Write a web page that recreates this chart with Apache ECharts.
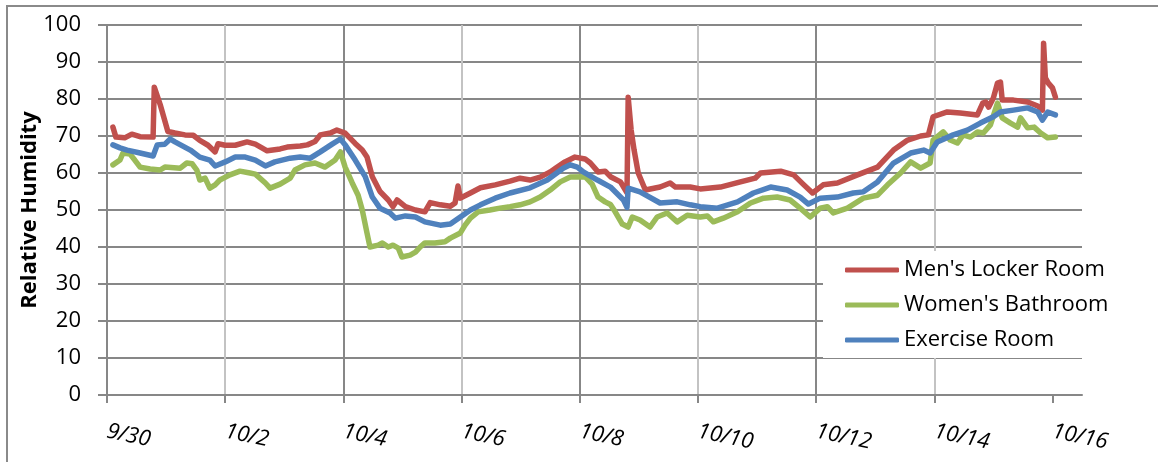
<!DOCTYPE html>
<html>
<head>
<meta charset="utf-8">
<script src="https://cdn.jsdelivr.net/npm/echarts@6/dist/echarts.min.js"></script>
<style>
  html, body { margin: 0; padding: 0; background: #fff; }
  #chart { width: 1158px; height: 462px; }
</style>
</head>
<body>
<div id="chart"></div>
<script>
// Relative humidity readings, x = days since 9/30 00:00
const tickLabels = ['9/30', '10/2', '10/4', '10/6', '10/8', '10/10', '10/12', '10/14', '10/16'];
const labelDays = [0, 2, 4, 6, 8, 10, 12, 14, 16];

const mensLocker = [
  [0.10, 72.4], [0.15, 69.7], [0.30, 69.5], [0.42, 70.5], [0.56, 69.8], [0.78, 69.7],
  [0.80, 83.2], [0.90, 78.5], [1.03, 71.2], [1.15, 70.8], [1.32, 70.3], [1.46, 70.2],
  [1.57, 68.8], [1.71, 67.5], [1.83, 65.7], [1.88, 67.9], [2.00, 67.5], [2.17, 67.5],
  [2.37, 68.4], [2.51, 67.8], [2.71, 66.0], [2.93, 66.5], [3.05, 67.0], [3.27, 67.3],
  [3.39, 67.6], [3.52, 68.5], [3.61, 70.3], [3.78, 70.8], [3.89, 71.6], [4.03, 70.8],
  [4.20, 68.0], [4.32, 66.2], [4.40, 64.3], [4.49, 59.0], [4.62, 55.0], [4.76, 52.7],
  [4.84, 50.9], [4.91, 52.7], [5.05, 50.9], [5.22, 50.0], [5.38, 49.5], [5.47, 52.0],
  [5.64, 51.4], [5.81, 51.0], [5.89, 51.9], [5.94, 56.5], [5.98, 53.2], [6.15, 54.6],
  [6.32, 56.0], [6.57, 56.8], [6.82, 57.8], [6.99, 58.6], [7.16, 58.1], [7.33, 58.9],
  [7.50, 60.3], [7.59, 61.3], [7.75, 63.0], [7.92, 64.3], [8.09, 63.8], [8.18, 62.7],
  [8.31, 60.3], [8.43, 60.5], [8.52, 59.0], [8.69, 57.6], [8.80, 54.6], [8.82, 80.5],
  [8.87, 71.6], [8.92, 66.2], [8.99, 60.0], [9.11, 55.4], [9.36, 56.2], [9.53, 57.3],
  [9.62, 56.2], [9.87, 56.2], [10.04, 55.7], [10.38, 56.2], [10.72, 57.6], [10.97, 58.6],
  [11.06, 60.0], [11.40, 60.5], [11.62, 59.5], [11.78, 57.0], [11.94, 54.6], [12.12, 56.8],
  [12.36, 57.3], [12.70, 59.5], [13.04, 61.6], [13.31, 66.2], [13.55, 68.9], [13.77, 70.0],
  [13.90, 70.3], [13.98, 75.2], [14.22, 76.5], [14.44, 76.2], [14.73, 75.7], [14.82, 78.9],
  [14.87, 79.2], [14.92, 77.8], [15.00, 80.3], [15.07, 84.3], [15.12, 84.6], [15.15, 79.7],
  [15.34, 79.7], [15.58, 79.2], [15.75, 78.1], [15.83, 77.0], [15.85, 95.1], [15.88, 85.7],
  [15.93, 84.3], [16.00, 83.0], [16.05, 80.5]
];

const womensBath = [
  [0.10, 62.2], [0.22, 63.5], [0.27, 65.4], [0.39, 65.1], [0.47, 63.5], [0.56, 61.6],
  [0.73, 61.1], [0.90, 60.8], [0.98, 61.6], [1.24, 61.3], [1.35, 62.7], [1.44, 62.5],
  [1.52, 60.8], [1.57, 58.1], [1.66, 58.6], [1.74, 55.9], [1.83, 56.8], [1.91, 58.1],
  [2.08, 59.5], [2.25, 60.5], [2.42, 60.0], [2.51, 59.7], [2.68, 57.3], [2.76, 55.9],
  [2.93, 57.0], [3.10, 58.6], [3.18, 60.8], [3.35, 62.2], [3.52, 62.7], [3.69, 61.6],
  [3.86, 63.5], [3.95, 65.7], [4.03, 61.6], [4.15, 57.3], [4.25, 54.0], [4.32, 50.0],
  [4.40, 43.8], [4.45, 40.0], [4.59, 40.5], [4.66, 41.1], [4.76, 40.0], [4.84, 40.5],
  [4.93, 39.7], [4.99, 37.3], [5.13, 37.8], [5.22, 38.6], [5.30, 40.0], [5.38, 41.1],
  [5.55, 41.1], [5.72, 41.4], [5.81, 42.4], [5.98, 43.8], [6.06, 45.9], [6.15, 47.8],
  [6.28, 49.5], [6.48, 50.0], [6.65, 50.5], [6.82, 50.9], [6.99, 51.4], [7.16, 52.2],
  [7.33, 53.5], [7.50, 55.4], [7.67, 57.6], [7.84, 58.9], [8.09, 59.0], [8.21, 57.0],
  [8.31, 53.5], [8.43, 52.2], [8.52, 51.5], [8.60, 49.5], [8.72, 46.2], [8.82, 45.4],
  [8.89, 48.1], [9.02, 47.3], [9.19, 45.4], [9.31, 48.1], [9.48, 49.2], [9.65, 46.8],
  [9.82, 48.6], [10.04, 48.1], [10.16, 48.4], [10.26, 46.8], [10.43, 47.8], [10.67, 49.5],
  [10.89, 51.9], [11.11, 53.2], [11.34, 53.5], [11.56, 52.7], [11.73, 50.5], [11.90, 48.1],
  [12.07, 50.5], [12.19, 50.9], [12.29, 49.2], [12.53, 50.5], [12.80, 53.2], [13.04, 54.0],
  [13.21, 56.8], [13.43, 60.0], [13.60, 63.0], [13.77, 61.3], [13.93, 62.7], [13.98, 68.9],
  [14.15, 71.1], [14.27, 68.9], [14.39, 68.1], [14.49, 70.3], [14.61, 69.7], [14.73, 71.1],
  [14.83, 70.8], [14.95, 73.0], [15.07, 78.9], [15.15, 74.9], [15.29, 73.5], [15.41, 72.4],
  [15.46, 74.9], [15.58, 72.2], [15.69, 72.4], [15.80, 70.8], [15.92, 69.5], [16.05, 69.7]
];

const exerciseRoom = [
  [0.10, 67.6], [0.22, 66.8], [0.34, 66.2], [0.56, 65.4], [0.78, 64.6], [0.85, 67.6],
  [0.98, 67.8], [1.07, 69.2], [1.15, 68.4], [1.41, 66.2], [1.57, 64.3], [1.74, 63.5],
  [1.83, 61.9], [2.00, 63.0], [2.17, 64.3], [2.34, 64.3], [2.51, 63.5], [2.68, 61.9],
  [2.84, 63.0], [3.10, 64.0], [3.27, 64.3], [3.44, 64.0], [3.61, 65.7], [3.81, 67.8],
  [3.95, 69.2], [4.03, 67.6], [4.20, 63.5], [4.37, 59.0], [4.49, 53.5], [4.62, 50.5],
  [4.79, 49.2], [4.88, 47.8], [5.05, 48.4], [5.22, 48.1], [5.38, 46.8], [5.64, 45.9],
  [5.81, 46.2], [5.98, 48.1], [6.15, 50.0], [6.32, 51.4], [6.57, 53.2], [6.82, 54.6],
  [7.16, 56.0], [7.45, 58.1], [7.72, 61.3], [7.84, 62.2], [7.96, 61.6], [8.06, 60.3],
  [8.30, 58.1], [8.52, 56.2], [8.74, 52.7], [8.80, 50.7], [8.82, 55.9], [9.02, 54.9],
  [9.36, 51.9], [9.65, 52.2], [9.87, 51.4], [10.04, 50.9], [10.33, 50.5], [10.67, 52.2],
  [10.94, 54.6], [11.23, 56.2], [11.51, 55.4], [11.73, 53.5], [11.87, 51.6], [12.07, 53.2],
  [12.36, 53.5], [12.63, 54.6], [12.80, 54.9], [13.04, 57.6], [13.31, 62.7], [13.60, 65.4],
  [13.82, 66.2], [13.93, 65.4], [14.05, 68.4], [14.32, 70.3], [14.56, 71.6], [14.78, 73.5],
  [15.00, 75.2], [15.12, 76.5], [15.34, 77.0], [15.58, 77.6], [15.75, 76.5], [15.83, 74.3],
  [15.92, 76.5], [16.05, 75.7]
];

const FONT = '"Open Sans", "Noto Sans", sans-serif';
const DARK = '#878787';
const LIGHT = '#c3c3c3';

function lineSeries(name, data, color) {
  return {
    name: name,
    type: 'line',
    data: data,
    showSymbol: false,
    symbol: 'none',
    lineStyle: { color: color, width: 5.5, join: 'round', cap: 'round' },
    itemStyle: { color: color },
    emphasis: { disabled: true }
  };
}

const chart = echarts.init(document.getElementById('chart'), null, { renderer: 'canvas' });
chart.setOption({
  animation: false,
  backgroundColor: '#fff',
  graphic: [{
    type: 'rect',
    shape: { x: 7, y: 6, width: 1300, height: 600 },
    style: { fill: 'none', stroke: '#8a8a8a', lineWidth: 2 },
    silent: true,
    z: -10
  }],
  grid: { left: 107, top: 25, right: 76, bottom: 67, containLabel: false },
  xAxis: {
    type: 'value',
    min: 0,
    max: 16.5,
    interval: 1,
    axisLine: { show: true, lineStyle: { color: DARK, width: 2 } },
    axisTick: { show: true, length: 8, customValues: labelDays, lineStyle: { color: DARK, width: 2 } },
    axisLabel: {
      customValues: labelDays,
      formatter: function (v) {
        const i = labelDays.indexOf(v);
        return i >= 0 ? tickLabels[i] : '';
      },
      rotate: -12,
      margin: 36,
      fontStyle: 'italic',
      fontFamily: FONT,
      fontSize: 22,
      color: '#000'
    },
    splitLine: {
      show: true,
      showMaxLine: false,
      lineStyle: { color: [DARK, LIGHT], width: 2 }
    }
  },
  yAxis: {
    type: 'value',
    min: 0,
    max: 100,
    interval: 10,
    name: 'Relative Humidity',
    nameLocation: 'middle',
    nameGap: 66,
    nameMoveOverlap: false,
    nameTextStyle: { fontFamily: FONT, fontSize: 22, fontWeight: 'bold', color: '#000' },
    axisLine: { show: true, lineStyle: { color: DARK, width: 2 } },
    axisTick: { show: true, length: 9, lineStyle: { color: DARK, width: 2 } },
    axisLabel: { margin: 26, fontFamily: FONT, fontSize: 22, color: '#000' },
    splitLine: { show: true, lineStyle: { color: DARK, width: 2 } }
  },
  legend: {
    orient: 'vertical',
    left: 823,
    top: 251,
    padding: [7, 40, 6, 22],
    backgroundColor: '#fff',
    icon: 'roundRect',
    itemWidth: 54,
    itemHeight: 5,
    itemGap: 11,
    selectedMode: false,
    textStyle: { fontFamily: FONT, fontSize: 22, color: '#000', lineHeight: 24 },
    data: ["Men's Locker Room", "Women's Bathroom", 'Exercise Room']
  },
  series: [
    lineSeries("Men's Locker Room", mensLocker, '#C0504D'),
    lineSeries("Women's Bathroom", womensBath, '#9BBB59'),
    lineSeries('Exercise Room', exerciseRoom, '#4F81BD')
  ]
});
</script>
</body>
</html>
